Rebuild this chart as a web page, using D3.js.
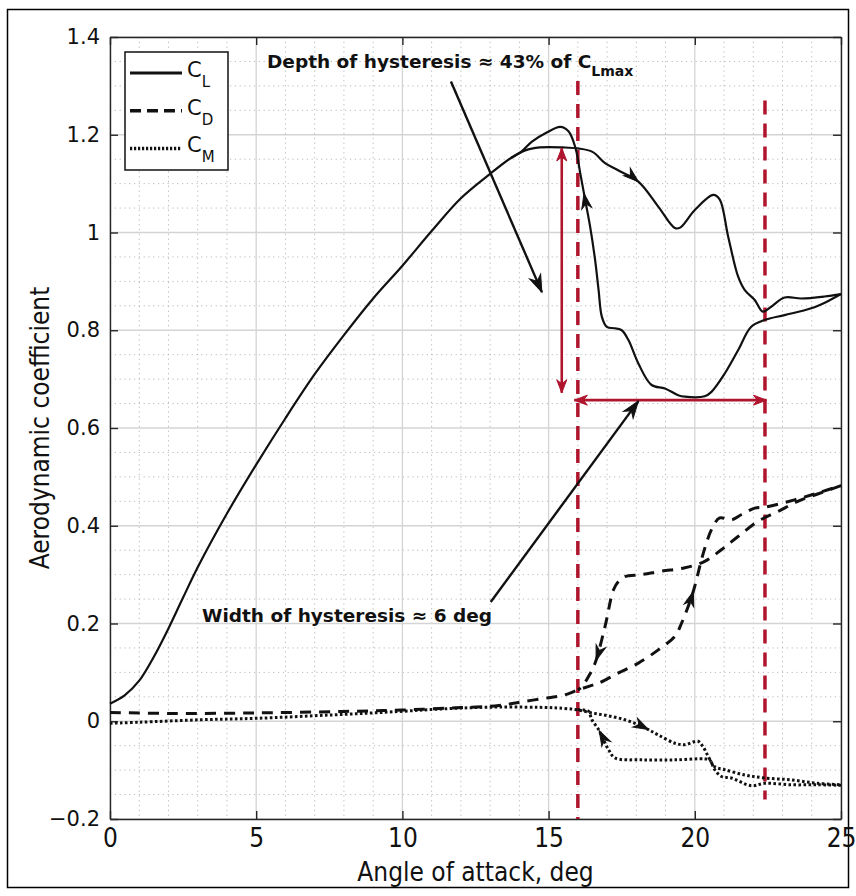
<!DOCTYPE html>
<html>
<head>
<meta charset="utf-8">
<script src="https://cdnjs.cloudflare.com/ajax/libs/d3/7.8.5/d3.min.js"></script>
<style>
body{margin:0;background:#fff;}
</style>
</head>
<body>
<div id="chart"></div>
<script>
// ticks
var xTicks = [0,5,10,15,20,25];
var yTicks = [-0.2,0,0.2,0.4,0.6,0.8,1,1.2,1.4];

// [alpha, coefficient]
var clUp = [[0,0.036],[0.5,0.053],[1,0.083],[1.5,0.132],[2,0.19],[2.5,0.253],[3,0.315],[4,0.425],[5,0.525],[6,0.62],[7,0.71],[8,0.79],[9,0.865],[10,0.932],[11,1.003],[12,1.07],[13,1.12],[13.7,1.152],[14.2,1.168],[14.7,1.174],[15.5,1.174],[16.0,1.172],[16.5,1.165],[16.93,1.142],[17.39,1.127],[18.07,1.104],[18.75,1.053],[19.32,1.009],[19.5,1.01],[20.0,1.046],[20.63,1.077],[20.85,1.068],[21.14,0.992],[21.48,0.91],[21.71,0.882],[22.05,0.862],[22.33,0.838],[22.61,0.848],[23.07,0.867],[23.64,0.865],[24.43,0.869],[25,0.874]];
var clDown = [[25,0.874],[24.5,0.858],[23.98,0.845],[23.07,0.831],[22.39,0.821],[21.93,0.807],[21.48,0.759],[21.03,0.712],[20.57,0.674],[20.34,0.665],[19.66,0.664],[19.43,0.667],[18.98,0.681],[18.52,0.688],[18.07,0.732],[17.73,0.78],[17.5,0.8],[17.27,0.804],[16.99,0.807],[16.82,0.828],[16.71,0.882],[16.59,0.944],[16.42,1.012],[16.25,1.067],[16.08,1.122],[15.96,1.163],[15.85,1.186],[15.68,1.207],[15.4,1.216],[14.89,1.203],[14.43,1.186],[14.08,1.166],[13.7,1.152]];
var cdUp = [[0,0.018],[2,0.016],[5,0.017],[8,0.02],[10,0.023],[12,0.028],[13.3,0.032],[14.1,0.04],[15,0.048],[15.5,0.053],[16,0.064],[16.4,0.072],[16.71,0.078],[17.39,0.099],[18.07,0.119],[18.75,0.146],[19.32,0.174],[19.55,0.201],[19.95,0.266],[20.23,0.331],[20.4,0.365],[20.57,0.392],[20.85,0.416],[21.25,0.412],[21.6,0.423],[22.05,0.436],[22.39,0.438],[23.41,0.453],[24.2,0.467],[25,0.482]];
var cdDown = [[25,0.482],[24.2,0.465],[23.52,0.45],[22.84,0.429],[22.16,0.409],[21.48,0.378],[20.91,0.351],[20.34,0.327],[19.66,0.314],[18.86,0.307],[18.18,0.3],[17.61,0.296],[17.39,0.286],[17.22,0.269],[16.93,0.194],[16.59,0.119],[16.37,0.092],[16.14,0.071],[16.0,0.064]];
var cmUp = [[0,-0.004],[1,-0.002],[3.07,0.003],[5,0.006],[7.6,0.013],[9.89,0.02],[11.6,0.026],[13.3,0.029],[15,0.028],[15.34,0.027],[15.91,0.024],[16.48,0.017],[17.05,0.011],[17.61,0.003],[18.07,-0.007],[18.41,-0.017],[18.75,-0.028],[19.32,-0.045],[19.66,-0.048],[20.11,-0.041],[20.28,-0.052],[20.46,-0.072],[20.68,-0.093],[21.02,-0.099],[21.71,-0.11],[22.39,-0.116],[23.3,-0.12],[24.2,-0.127],[25,-0.13]];
var cmDown = [[25,-0.131],[24.2,-0.13],[23.3,-0.13],[22.39,-0.127],[21.93,-0.132],[21.25,-0.116],[20.91,-0.113],[20.68,-0.099],[20.51,-0.079],[20.34,-0.077],[19.32,-0.079],[18.18,-0.079],[17.27,-0.075],[17.05,-0.058],[16.82,-0.031],[16.71,-0.017],[16.48,0.003],[16.37,0.02],[16.2,0.023],[15.9,0.024]];

// direction arrows sitting on the curves: [series, alpha, coef]
var curveArrows = [["clUp",18.07,1.104],["clDown",16.25,1.08],["cdDown",16.62,0.125],["cdUp",19.95,0.266],["cmUp",18.41,-0.018],["cmDown",16.72,-0.02]];

// hysteresis markers
var stallLines = [16.0, 22.4];
var depthArrow = [15.45, 1.173, 0.672];
var widthArrow = [0.657, 15.88, 22.45];
var noteArrows = [[11.66,1.309,14.77,0.878],[13.02,0.244,18.07,0.655]];

var W = 856, H = 896;
var red = "#b0152e";
var svg = d3.select("#chart").append("svg")
	.attr("width", W)
	.attr("height", H)
	.style("font-family", "DejaVu Sans");

var x = d3.scaleLinear().domain([0,25]).range([110,841]);
var y = d3.scaleLinear().domain([-0.2,1.4]).range([819,37]);

// outer frame
svg.append("rect")
	.attr("x", 7.5).attr("y", 9.5)
	.attr("width", 841).attr("height", 878)
	.attr("fill", "none").attr("stroke", "#000").attr("stroke-width", 1.5);

// grid
var grid = svg.append("g");
grid.selectAll(".vmin").data(d3.range(0,26).filter(function(d){ return d % 5 != 0; }))
	.enter().append("line")
	.attr("x1", function(d){ return x(d); }).attr("x2", function(d){ return x(d); })
	.attr("y1", y(1.4)).attr("y2", y(-0.2))
	.attr("stroke", "#b8b8b8").attr("stroke-width", 1).attr("stroke-dasharray", "1.2,3.6");
grid.selectAll(".hmin").data(d3.range(-4,29).filter(function(d){ return d % 4 != 0; }))
	.enter().append("line")
	.attr("y1", function(d){ return y(d*0.05); }).attr("y2", function(d){ return y(d*0.05); })
	.attr("x1", x(0)).attr("x2", x(25))
	.attr("stroke", "#b8b8b8").attr("stroke-width", 1).attr("stroke-dasharray", "1.2,3.6");
grid.selectAll(".vmaj").data(xTicks)
	.enter().append("line")
	.attr("x1", function(d){ return x(d); }).attr("x2", function(d){ return x(d); })
	.attr("y1", y(1.4)).attr("y2", y(-0.2))
	.attr("stroke", "#d4d4d4").attr("stroke-width", 1.3);
grid.selectAll(".hmaj").data(yTicks)
	.enter().append("line")
	.attr("y1", function(d){ return y(d); }).attr("y2", function(d){ return y(d); })
	.attr("x1", x(0)).attr("x2", x(25))
	.attr("stroke", "#d4d4d4").attr("stroke-width", 1.3);

// axes, ticks pointing inward
var axisColor = "#262626";
var gx = svg.append("g").attr("transform", "translate(0," + y(-0.2) + ")")
	.call(d3.axisBottom(x).tickValues(xTicks).tickSizeInner(-8).tickSizeOuter(0).tickPadding(10));
var gy = svg.append("g").attr("transform", "translate(" + x(0) + ",0)")
	.call(d3.axisLeft(y).tickValues(yTicks).tickSizeInner(-8).tickSizeOuter(0).tickPadding(10)
		.tickFormat(function(d){ return d3.format("")(+d.toFixed(1)); }));
var gt = svg.append("g").attr("transform", "translate(0," + y(1.4) + ")")
	.call(d3.axisTop(x).tickValues(xTicks).tickSizeInner(-8).tickSizeOuter(0).tickFormat(""));
var gr = svg.append("g").attr("transform", "translate(" + x(25) + ",0)")
	.call(d3.axisRight(y).tickValues(yTicks).tickSizeInner(-8).tickSizeOuter(0).tickFormat(""));
[gx, gy, gt, gr].forEach(function(g){
	g.selectAll("path,line").attr("stroke", axisColor).attr("stroke-width", 1.4);
});
gx.selectAll("text").attr("fill", "#111").style("font-family", "DejaVu Sans Condensed").style("font-size", "26px");
gy.selectAll("text").attr("fill", "#111").style("font-family", "DejaVu Sans").style("font-size", "21px");

svg.append("text")
	.attr("x", (x(0)+x(25))/2).attr("y", 881)
	.attr("text-anchor", "middle")
	.style("font-family", "DejaVu Sans Condensed").style("font-size", "26px").attr("fill", "#111")
	.text("Angle of attack, deg");
svg.append("text")
	.attr("transform", "translate(49," + ((y(1.4)+y(-0.2))/2) + ") rotate(-90)")
	.attr("text-anchor", "middle")
	.style("font-family", "DejaVu Sans Condensed").style("font-size", "26px").attr("fill", "#111")
	.text("Aerodynamic coefficient");

// red stall lines
svg.selectAll(".stall").data(stallLines)
	.enter().append("line")
	.attr("x1", function(d){ return x(d); }).attr("x2", function(d){ return x(d); })
	.attr("y1", function(d, i){ return i == 0 ? y(1.31) : y(1.27); })
	.attr("y2", function(d, i){ return i == 0 ? y(-0.2) : y(-0.16); })
	.attr("stroke", red).attr("stroke-width", 3.5).attr("stroke-dasharray", "14,9");

// curves
var line = d3.line()
	.x(function(d){ return x(d[0]); })
	.y(function(d){ return y(d[1]); })
	.curve(d3.curveCatmullRom.alpha(0.5));
var series = {
	clUp: {data: clUp, dash: null, w: 2.2},
	clDown: {data: clDown, dash: null, w: 2.2},
	cdUp: {data: cdUp, dash: "11,8", w: 3},
	cdDown: {data: cdDown, dash: "11,8", w: 3},
	cmUp: {data: cmUp, dash: "2.6,2.4", w: 3},
	cmDown: {data: cmDown, dash: "2.6,2.4", w: 3}
};
var paths = {};
Object.keys(series).forEach(function(k){
	var s = series[k];
	paths[k] = svg.append("path")
		.attr("d", line(s.data))
		.attr("fill", "none")
		.attr("stroke", "#111")
		.attr("stroke-width", s.w)
		.attr("stroke-dasharray", s.dash)
		.attr("stroke-linejoin", "round");
});

function arrowHead(px, py, ang, len, wid, color){
	svg.append("path")
		.attr("d", "M0,0 L" + (-len) + "," + (-wid/2) + " L" + (-len*0.7) + ",0 L" + (-len) + "," + (wid/2) + " Z")
		.attr("transform", "translate(" + px + "," + py + ") rotate(" + ang + ")")
		.attr("fill", color).attr("stroke", color).attr("stroke-width", 1);
}

// arrows along the curves, direction taken from the path
curveArrows.forEach(function(a){
	var node = paths[a[0]].node();
	var total = node.getTotalLength();
	var tx = x(a[1]), ty = y(a[2]);
	var best = 0, bestD = 1e9;
	for(var L = 0; L <= total; L += 0.5){
		var p = node.getPointAtLength(L);
		var dd = (p.x-tx)*(p.x-tx) + (p.y-ty)*(p.y-ty);
		if(dd < bestD){ bestD = dd; best = L; }
	}
	var p0 = node.getPointAtLength(Math.max(0, best-4));
	var p1 = node.getPointAtLength(Math.min(total, best+4));
	var ang = Math.atan2(p1.y-p0.y, p1.x-p0.x) * 180 / Math.PI;
	var pc = node.getPointAtLength(best);
	arrowHead(pc.x, pc.y, ang, 15, 10, "#111");
});

// red double arrows
function redArrow(x1, y1, x2, y2){
	svg.append("line")
		.attr("x1", x1).attr("y1", y1).attr("x2", x2).attr("y2", y2)
		.attr("stroke", red).attr("stroke-width", 2.6);
	var ang = Math.atan2(y2-y1, x2-x1) * 180 / Math.PI;
	arrowHead(x2, y2, ang, 13, 10, red);
	arrowHead(x1, y1, ang+180, 13, 10, red);
}
redArrow(x(depthArrow[0]), y(depthArrow[1]), x(depthArrow[0]), y(depthArrow[2]));
redArrow(x(widthArrow[1]), y(widthArrow[0]), x(widthArrow[2]), y(widthArrow[0]));

// black note arrows
noteArrows.forEach(function(a){
	var x1 = x(a[0]), y1 = y(a[1]), x2 = x(a[2]), y2 = y(a[3]);
	svg.append("line")
		.attr("x1", x1).attr("y1", y1).attr("x2", x2).attr("y2", y2)
		.attr("stroke", "#111").attr("stroke-width", 2.4);
	arrowHead(x2, y2, Math.atan2(y2-y1, x2-x1) * 180 / Math.PI, 17, 12, "#111");
});

// notes
var note1 = svg.append("text")
	.attr("x", 267).attr("y", 68)
	.style("font-weight", "bold").style("font-size", "18.5px").attr("fill", "#111");
note1.append("tspan").text("Depth of hysteresis \u2248 43% of C");
note1.append("tspan").attr("dy", 8).style("font-size", "14px").text("Lmax");
svg.append("text")
	.attr("x", 202).attr("y", 622)
	.style("font-weight", "bold").style("font-size", "18.5px").attr("fill", "#111")
	.text("Width of hysteresis \u2248 6 deg");

// legend
var lg = svg.append("g");
lg.append("rect")
	.attr("x", 125).attr("y", 52).attr("width", 103).attr("height", 118)
	.attr("fill", "#fff").attr("stroke", "#111").attr("stroke-width", 1.5);
var legendItems = [["L", null, 2.8], ["D", "11,6", 3.5], ["M", "2.2,1.8", 3.5]];
legendItems.forEach(function(d, i){
	var ly = 73 + i*37.7;
	lg.append("line")
		.attr("x1", 130).attr("x2", 182).attr("y1", ly).attr("y2", ly)
		.attr("stroke", "#111").attr("stroke-width", d[2]).attr("stroke-dasharray", d[1]);
	var t = lg.append("text").attr("x", 187).attr("y", ly + 4)
		.style("font-size", "21px").attr("fill", "#111");
	t.append("tspan").text("C");
	t.append("tspan").attr("dy", 10).style("font-size", "15px").text(d[0]);
});
</script>
</body>
</html>
